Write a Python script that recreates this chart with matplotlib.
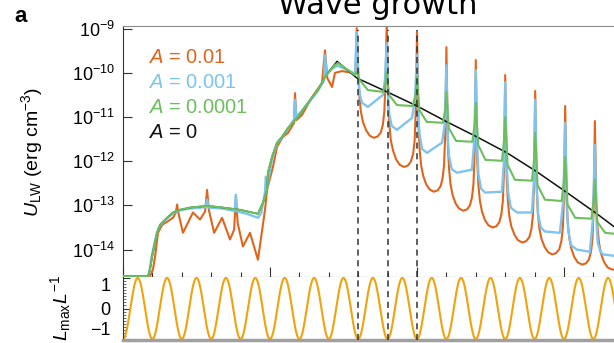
import matplotlib
matplotlib.use('Agg')
import matplotlib.pyplot as plt
import numpy as np
from matplotlib.ticker import MultipleLocator, NullLocator

# energy density curves, x in units of the bottom-panel period, y as log10(U_LW)
orange_x = [0, 0.92, 1.02, 1.09, 1.19, 1.33, 1.50, 1.70, 1.80, 1.84, 1.88, 2.04, 2.38, 2.62, 2.79, 2.86, 2.92,
            3.10, 3.37, 3.64, 3.78, 3.84, 3.90, 4.08, 4.32, 4.59, 4.83, 4.90, 4.96, 5.10, 5.24, 5.44, 5.61,
            5.82, 5.85, 5.90, 6.09, 6.43, 6.77, 6.87, 6.95, 7.11, 7.21, 7.45, 7.79, 7.91, 7.95,
            8.00, 8.04, 8.09, 8.16, 8.27, 8.39, 8.53, 8.66, 8.77, 8.84, 8.89, 8.93, 8.97,
            9.02, 9.06, 9.11, 9.19, 9.29, 9.41, 9.56, 9.69, 9.79, 9.87, 9.92, 9.96, 10.0,
            10.05, 10.09, 10.14, 10.21, 10.31, 10.43, 10.57, 10.70, 10.80, 10.87, 10.92, 10.96, 11.0,
            11.05, 11.09, 11.14, 11.21, 11.31, 11.43, 11.57, 11.70, 11.80, 11.87, 11.92, 11.96, 12.0,
            12.05, 12.09, 12.14, 12.21, 12.31, 12.43, 12.57, 12.70, 12.80, 12.87, 12.92, 12.96, 13.0,
            13.05, 13.09, 13.14, 13.21, 13.32, 13.44, 13.58, 13.71, 13.82, 13.89, 13.94, 13.98, 14.02,
            14.07, 14.11, 14.16, 14.23, 14.34, 14.46, 14.60, 14.73, 14.84, 14.91, 14.96, 15.00, 15.04,
            15.09, 15.13, 15.18, 15.25, 15.35, 15.47, 15.62, 15.75, 15.85, 15.92, 15.97, 16.01, 16.05,
            16.10, 16.14, 16.19, 16.26, 16.36, 16.48, 16.62, 17.0]
orange_log = [-14.60, -14.60, -14.45, -14.16, -13.62, -13.44, -13.37, -13.28, -13.16, -12.98, -13.16, -13.62,
              -13.16, -13.32, -13.14, -12.65, -13.10, -13.62, -13.28, -13.77, -13.55, -12.80, -13.40, -13.93,
              -13.62, -14.23, -13.10, -12.65, -12.49, -12.13, -11.67, -11.45, -11.36, -11.13, -10.46, -11.07,
              -10.95, -10.55, -10.23, -9.49, -10.12, -10.32, -10.00, -9.96, -10.00, -10.02, -8.99,
              -9.97, -10.52, -10.87, -11.11, -11.30, -11.42, -11.47, -11.44, -11.35, -11.17, -10.87, -10.17, -8.85,
              -10.63, -11.18, -11.53, -11.77, -11.96, -12.08, -12.13, -12.10, -12.01, -11.83, -11.53, -10.83, -9.06,
              -11.19, -11.74, -12.09, -12.33, -12.52, -12.64, -12.69, -12.66, -12.57, -12.39, -12.09, -11.39, -9.42,
              -11.62, -12.17, -12.52, -12.76, -12.95, -13.07, -13.12, -13.09, -13.00, -12.82, -12.52, -11.82, -9.71,
              -12.00, -12.55, -12.90, -13.14, -13.33, -13.45, -13.50, -13.47, -13.38, -13.20, -12.90, -12.20, -10.05,
              -12.34, -12.89, -13.24, -13.48, -13.67, -13.79, -13.84, -13.81, -13.72, -13.54, -13.24, -12.54, -10.41,
              -12.61, -13.16, -13.51, -13.75, -13.94, -14.06, -14.11, -14.08, -13.99, -13.81, -13.51, -12.81, -10.75,
              -12.84, -13.39, -13.74, -13.98, -14.17, -14.29, -14.34, -14.31, -14.22, -14.04, -13.74, -13.04, -11.09,
              -12.95, -13.50, -13.85, -14.09, -14.28, -14.40, -14.45, -14.45]

blue_x = [0, 0.87, 0.99, 1.09, 1.16, 1.26, 1.50, 1.70, 1.94, 2.28, 2.80, 2.86, 2.91, 3.40, 3.80, 3.84, 3.88,
          4.22, 4.50, 4.59, 4.70, 4.83, 4.86, 4.90, 5.07, 5.24, 5.41, 5.61, 5.82, 5.85, 5.90, 6.29, 6.63,
          6.84, 6.87, 6.92, 7.04, 7.28, 7.55, 7.89, 7.95,
          8.01, 8.06, 8.13, 8.33, 8.84, 8.91, 8.97,
          9.02, 9.06, 9.14, 9.32, 9.83, 9.93, 10.0,
          10.05, 10.09, 10.17, 10.34, 10.85, 10.94, 11.0,
          11.05, 11.09, 11.18, 11.36, 11.87, 11.95, 12.0,
          12.05, 12.09, 12.18, 12.31, 12.89, 12.96, 13.0,
          13.06, 13.10, 13.19, 13.40, 13.91, 13.98, 14.02,
          14.08, 14.12, 14.21, 14.35, 14.86, 14.98, 15.04,
          15.10, 15.14, 15.24, 15.44, 15.88, 15.98, 16.05,
          16.11, 16.15, 16.24, 16.33, 16.70, 17.0]
blue_log = [-14.60, -14.60, -14.10, -13.80, -13.60, -13.45, -13.29, -13.18, -13.11, -13.07, -13.04, -12.87,
            -13.05, -13.07, -13.13, -12.76, -13.14, -13.19, -13.26, -13.28, -13.18, -12.70, -12.35, -12.60,
            -11.95, -11.60, -11.46, -11.27, -11.05, -10.61, -11.00, -10.70, -10.40, -10.18, -9.60, -10.05,
            -9.94, -9.84, -9.91, -10.02, -9.08,
            -10.16, -10.50, -10.68, -10.77, -10.50, -10.16, -9.33,
            -10.61, -10.95, -11.20, -11.29, -11.02, -10.61, -9.60,
            -11.07, -11.40, -11.72, -11.81, -11.58, -11.18, -9.83,
            -11.52, -11.88, -12.18, -12.26, -12.19, -11.52, -9.94,
            -11.74, -12.30, -12.62, -12.71, -12.69, -11.97, -10.21,
            -12.19, -12.70, -13.05, -13.16, -13.16, -12.42, -10.61,
            -12.65, -13.20, -13.50, -13.59, -13.62, -12.87, -11.13,
            -13.10, -13.55, -13.90, -14.00, -14.05, -13.32, -11.63,
            -13.44, -13.85, -14.05, -14.11, -14.14, -14.14]

green_x = [0, 0.85, 0.92, 0.99, 1.09, 1.16, 1.26, 1.50, 1.70, 1.94, 2.28, 2.86, 3.40, 3.98, 4.59, 4.76,
           4.90, 4.93, 5.07, 5.24, 5.41, 5.61, 5.95, 6.29, 6.63, 6.87, 7.21, 7.31, 7.55, 7.89, 7.95,
           8.05, 8.33, 8.84, 8.93, 8.97,
           9.05, 9.32, 9.85, 9.95, 10.0,
           10.08, 10.33, 10.88, 10.96, 11.0,
           11.08, 11.33, 11.88, 11.96, 12.0,
           12.08, 12.33, 12.89, 12.96, 13.0,
           13.08, 13.33, 13.91, 13.98, 14.02,
           14.10, 14.35, 14.92, 15.00, 15.04,
           15.12, 15.38, 15.93, 16.01, 16.05,
           16.13, 16.40, 16.70, 17.0]
green_log = [-14.60, -14.60, -14.45, -14.16, -13.84, -13.62, -13.44, -13.28, -13.16, -13.10, -13.05, -13.01,
             -13.05, -13.10, -13.19, -12.94, -12.65, -12.26, -11.90, -11.58, -11.45, -11.25, -11.00, -10.68,
             -10.39, -10.09, -9.82, -9.78, -9.89, -10.05, -9.98,
             -10.16, -10.39, -10.43, -10.25, -9.98,
             -10.50, -10.73, -10.75, -10.50, -10.09,
             -10.84, -11.11, -11.13, -10.84, -10.43,
             -11.25, -11.54, -11.56, -11.18, -10.68,
             -11.63, -11.97, -11.99, -11.52, -11.00,
             -12.08, -12.42, -12.44, -11.97, -11.36,
             -12.54, -12.87, -12.90, -12.42, -11.90,
             -12.98, -13.28, -13.30, -12.87, -12.42,
             -13.37, -13.62, -13.64, -13.64]

black_x = [0, 0.85, 0.92, 0.99, 1.09, 1.16, 1.26, 1.50, 1.70, 1.94, 2.28, 2.86, 3.40, 3.98, 4.59, 4.76,
           4.90, 4.93, 5.07, 5.24, 5.41, 5.61, 5.95, 6.29, 6.63, 6.87, 7.28,
           7.96, 8.98, 10.0, 11.02, 12.04, 13.06, 14.08, 15.10, 16.12, 16.70, 17.0]
black_log = [-14.60, -14.60, -14.45, -14.16, -13.84, -13.62, -13.44, -13.28, -13.16, -13.10, -13.05, -13.01,
             -13.05, -13.10, -13.19, -12.94, -12.65, -12.26, -11.90, -11.58, -11.45, -11.25, -11.00, -10.68,
             -10.39, -10.09, -9.74,
             -10.12, -10.43, -10.75, -11.11, -11.45, -11.81, -12.24, -12.71, -13.19, -13.48, -13.63]

labels = ['$A$ = 0.01', '$A$ = 0.001', '$A$ = 0.0001', '$A$ = 0']
colors = ['#e0651c', '#7dc4ef', '#6cbf5c', '#111111']
dash_x = [8, 9, 10]

# bottom panel: L_max / L oscillation
wave_period = 1.0
wave_amp = 1.0

plt.rcParams['font.family'] = ['Liberation Sans', 'DejaVu Sans']
plt.rcParams['mathtext.fontset'] = 'custom'
plt.rcParams['mathtext.rm'] = 'Liberation Sans'
plt.rcParams['mathtext.it'] = 'Liberation Sans:italic'
plt.rcParams['mathtext.bf'] = 'Liberation Sans:bold'

W, H = 614, 343
fig = plt.figure(figsize=(W / 100, H / 100), dpi=100)

def box(x0, y0, x1, y1):
    return [x0 / W, 1 - y1 / H, (x1 - x0) / W, (y1 - y0) / H]

ax = fig.add_axes(box(123, 26, 622.8, 277))
ax2 = fig.add_axes(box(123, 277, 622.8, 340))

series = [(orange_x, orange_log, 1.5, 2), (blue_x, blue_log, 1.7, 3),
          (green_x, green_log, 1.5, 5), (black_x, black_log, 1.1, 4)]
for i in range(4):
    xs, ls, lw, z = series[i]
    ax.plot(xs, 10.0 ** np.array(ls), color=colors[i], lw=lw, zorder=z, solid_joinstyle='round')

ax.set_yscale('log')
ax.set_xlim(0, 17)
ax.set_ylim(10 ** -14.62, 10 ** -8.94)
ax.set_yticks([10.0 ** k for k in range(-14, -8)])
ax.set_yticklabels(['$10^{%d}$' % k for k in range(-14, -8)])
ax.yaxis.set_minor_locator(NullLocator())
ax.tick_params(axis='y', direction='in', length=6.5, width=0.8, color='#333333', labelsize=13, pad=6)
ax.xaxis.set_major_locator(MultipleLocator(5))
ax.xaxis.set_minor_locator(MultipleLocator(1))
ax.tick_params(axis='x', which='major', direction='in', length=7, width=0.8, color='#333333', labelbottom=False)
ax.tick_params(axis='x', which='minor', direction='in', length=3.6, width=0.8, color='#333333')
ax.spines['top'].set_color('#8a8a8a')
ax.spines['left'].set_color('#333333')
ax.spines['bottom'].set_color('#333333')
ax.spines['right'].set_visible(False)

for i, lab in enumerate(labels):
    ax.text(0.05, 0.876 - i * 0.0995, lab, color=colors[i], fontsize=14.5, va='center', ha='left',
            transform=ax.transAxes)

for xv in dash_x:
    ax.axvline(xv, ymax=0.984, color='#333333', lw=1.1, ls=(0, (4, 3)), zorder=6)
    ax2.axvline(xv, color='#333333', lw=1.1, ls=(0, (4, 3)), zorder=6)

xw = np.linspace(0, 17, 1200)
ax2.plot(xw, -wave_amp * np.cos(2 * np.pi * xw / wave_period), color='#f0a30c', lw=1.5)
ax2.set_xlim(0, 17)
ax2.set_ylim(-1.03, 1.03)
ax2.set_yticks([-1, 0, 1])
ax2.set_yticklabels(['\u22121', '0', '1'])
tl = ax2.get_yticklabels()
tl[0].set_va('bottom')
tl[2].set_va('top')
ax2.yaxis.set_minor_locator(MultipleLocator(0.1))
ax2.tick_params(axis='y', which='major', direction='in', length=5, width=0.8, color='#333333', labelsize=13, pad=9)
ax2.tick_params(axis='y', which='minor', direction='in', length=2.5, width=0.6, color='#555555')
ax2.tick_params(axis='x', which='both', bottom=False, labelbottom=False)
ax2.spines['top'].set_visible(False)
ax2.spines['right'].set_visible(False)
ax2.spines['left'].set_color('#333333')
ax2.spines['bottom'].set_color('#a0a0a0')
ax2.spines['bottom'].set_linewidth(2.5)

fig.text(45 / W, 1 - 151.5 / H, '$U_{\\rm LW}$ (erg cm$^{-3}$)', rotation=90, ha='right', va='center',
         fontsize=14)
fig.text(73 / W, 1 - 308 / H, '$L_{\\max}L^{-1}$', rotation=90, ha='right', va='center', fontsize=14)
fig.text(378 / W, 1 - 13.5 / H, 'Wave growth', ha='center', va='baseline', fontsize=22, family='DejaVu Sans')
fig.text(14 / W, 1 - 22 / H, 'a', ha='left', va='baseline', fontsize=16, fontweight='bold')

fig.savefig('out.png', dpi=100)
plt.close()
